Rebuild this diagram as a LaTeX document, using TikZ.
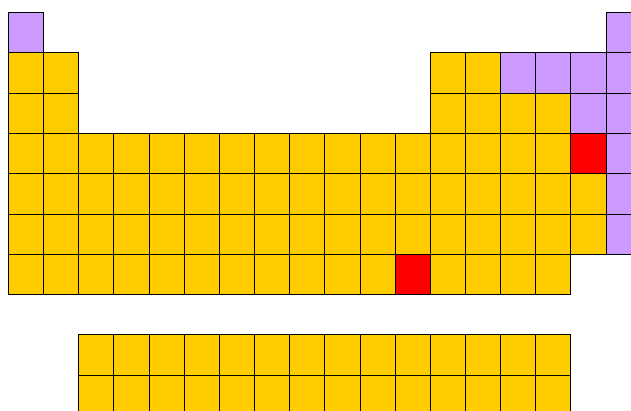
\documentclass[tikz,border=0pt]{standalone}
\definecolor{nonmetal}{HTML}{CC99FF}
\definecolor{metal}{HTML}{FFCC00}
\definecolor{marked}{HTML}{FF0000}
\tikzset{cell/.style={draw, rectangle, inner sep=0pt, minimum width=35.15pt, minimum height=40.3pt, anchor=north west, line width=0.7pt}}
\begin{document}
\begin{tikzpicture}[x=1pt,y=-1pt]
\useasboundingbox (0,0) rectangle (631,410);
\clip (0,0) rectangle (631,410);
\foreach \r/\a/\b/\col in {1/1/1/nonmetal, 1/18/18/nonmetal,
    2/1/2/metal, 2/13/14/metal, 2/15/18/nonmetal,
    3/1/2/metal, 3/13/16/metal, 3/17/18/nonmetal,
    4/1/16/metal, 4/17/17/marked, 4/18/18/nonmetal,
    5/1/17/metal, 5/18/18/nonmetal,
    6/1/17/metal, 6/18/18/nonmetal,
    7/1/11/metal, 7/12/12/marked, 7/13/16/metal,
    9/3/16/metal, 10/3/16/metal}
  \foreach \c in {\a,...,\b}
    \node (cell-\r-\c) [cell, fill=\col] at ({8+(\c-1)*35.15},{12+(\r-1)*40.3}) {};
\end{tikzpicture}
\end{document}
